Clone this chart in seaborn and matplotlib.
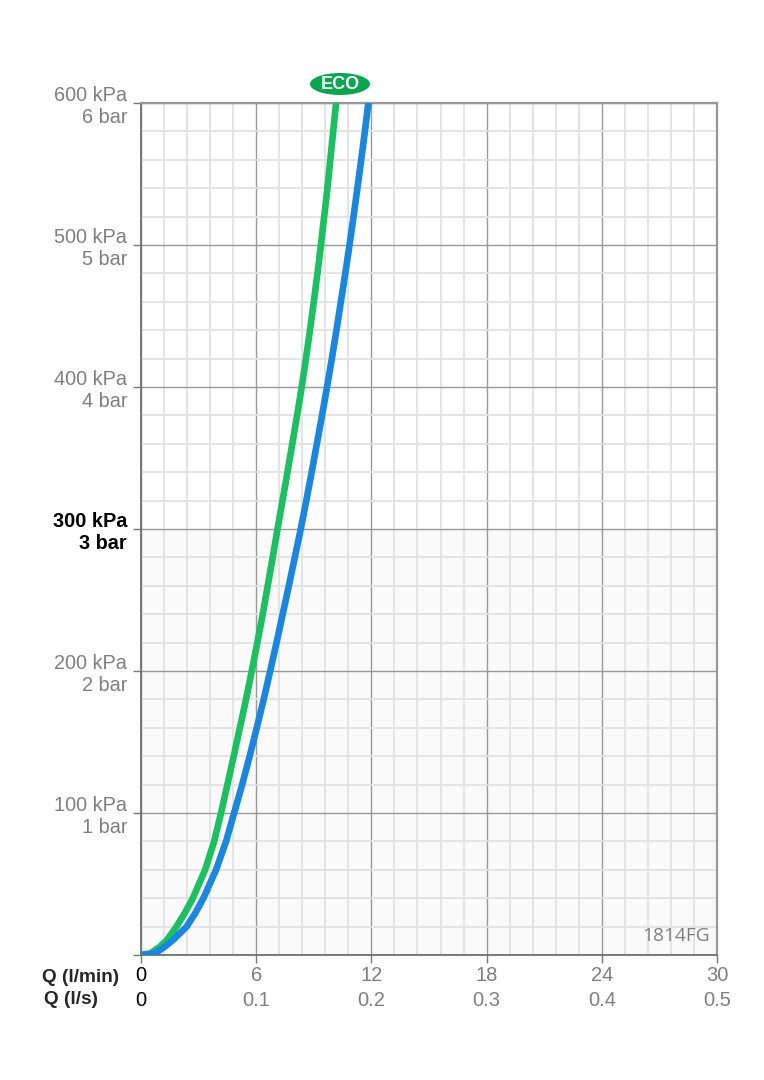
#importing libraries
import numpy as np
import pandas as pd
import seaborn as sns
import matplotlib.pyplot as plt
from matplotlib.patches import Ellipse

#curve values (flow in l/min, pressure in kPa)
eco_flow = [0, 0.5, 0.95, 1.35, 1.85, 2.3, 2.7, 3.34, 3.81, 4.17, 4.5, 4.83, 5.15, 5.47,
            5.77, 6.06, 6.34, 6.6, 6.86, 7.11, 7.37, 7.63, 7.88, 8.13, 8.37, 8.59, 8.8,
            9.0, 9.19, 9.37, 9.54, 9.71, 9.86, 10.01, 10.16]
eco_kpa = [0, 1.2, 5.5, 10.5, 20, 30, 40, 60, 80, 100, 120, 140, 160, 180,
           200, 220, 240, 260, 280, 300, 320, 340, 360, 380, 400, 420, 440,
           460, 480, 500, 520, 540, 560, 580, 600]
std_flow = [0, 0.4, 0.8, 1.25, 1.7, 2.38, 2.85, 3.25, 3.91, 4.43, 4.85, 5.27, 5.66, 6.03,
            6.39, 6.73, 7.06, 7.38, 7.7, 8.01, 8.32, 8.61, 8.89, 9.16, 9.43, 9.69, 9.94,
            10.18, 10.41, 10.64, 10.86, 11.07, 11.27, 11.47, 11.66, 11.84]
std_kpa = [0, 0.3, 1.8, 5.9, 11, 20, 30, 40, 60, 80, 100, 120, 140, 160,
           180, 200, 220, 240, 260, 280, 300, 320, 340, 360, 380, 400, 420,
           440, 460, 480, 500, 520, 540, 560, 580, 600]

#axis ticks and labels
x_ticks = [0, 6, 12, 18, 24, 30]
x_ls = ['0', '0.1', '0.2', '0.3', '0.4', '0.5']
y_ticks = [100, 200, 300, 400, 500, 600]
y_bar = ['1', '2', '3', '4', '5', '6']

green = '#1dbf60'
blue = '#1a86dd'
gray = '#7f7f7f'

sns.set_style('white')
plt.rcParams['font.family'] = ['Liberation Sans', 'DejaVu Sans']

fig = plt.figure(figsize=(7.64, 10.8), dpi=100)
ax = fig.add_axes([141/764, 125/1080, 576/764, 852/1080])

#light shading below 3 bar
ax.axhspan(0, 300, color='#fafafa', zorder=0)

ax.set_xlim(0, 30)
ax.set_ylim(0, 600)
ax.set_xticks(np.arange(0, 30.01, 1.2), minor=True)
ax.set_yticks(np.arange(0, 600.01, 20), minor=True)
ax.grid(which='minor', color='#e2e2e2', linewidth=1.3, zorder=1)
ax.grid(which='major', color='#999999', linewidth=1.0, zorder=1)
ax.set_axisbelow(True)

sns.lineplot(x=eco_flow, y=eco_kpa, sort=False, color=green, linewidth=4.8, ax=ax, zorder=3)
sns.lineplot(x=std_flow, y=std_kpa, sort=False, color=blue, linewidth=4.8, ax=ax, zorder=4)

#x tick labels in two rows
ax.set_xticks(x_ticks)
ax.set_xticklabels([f'{q}\n{s}' for q, s in zip(x_ticks, x_ls)], fontsize=14.5,
                   color=gray, linespacing=1.37)
ax.get_xticklabels()[0].set_color('black')

#y tick labels kPa / bar
ax.set_yticks([0] + y_ticks)
ax.set_yticklabels([''] + [f'{p} kPa\n{b} bar' for p, b in zip(y_ticks, y_bar)],
                   fontsize=14.3, color=gray, linespacing=1.22, ha='right')
lab = ax.get_yticklabels()[3]
lab.set_color('black')
lab.set_fontweight('bold')

ax.tick_params(axis='both', which='major', length=6, width=1, color='#777777',
               direction='out', bottom=True, left=True)
ax.tick_params(axis='x', pad=2)
ax.tick_params(axis='y', pad=4)
ax.tick_params(which='minor', length=0)

for s in ['left', 'bottom']:
    ax.spines[s].set_color('#6f6f6f')
    ax.spines[s].set_linewidth(1.3)
for s in ['top', 'right']:
    ax.spines[s].set_color('#999999')
    ax.spines[s].set_linewidth(1.6)

#axis names on the left of tick labels
fig.text(42/764, 1 - 977/1080, 'Q (l/min)', fontsize=13.7, fontweight='bold', va='center', ha='left')
fig.text(44/764, 1 - 1000/1080, 'Q (l/s)', fontsize=13.7, fontweight='bold', va='center', ha='left')

#reference code
ax.text(0.987, 0.012, '1814FG', transform=ax.transAxes, ha='right', va='bottom',
        fontsize=13.8, color=gray, family=['Open Sans', 'DejaVu Sans'])

#ECO badge
fig.patches.append(Ellipse((340/764, 1 - 84/1080), 60/764, 22/1080, transform=fig.transFigure,
                           facecolor='#0aa54f', edgecolor='none'))
fig.text(340/764, 1 - 84.5/1080, 'ECO', color='white', fontsize=13, fontweight='bold',
         ha='center', va='center')

plt.savefig('out.png', dpi=100)
